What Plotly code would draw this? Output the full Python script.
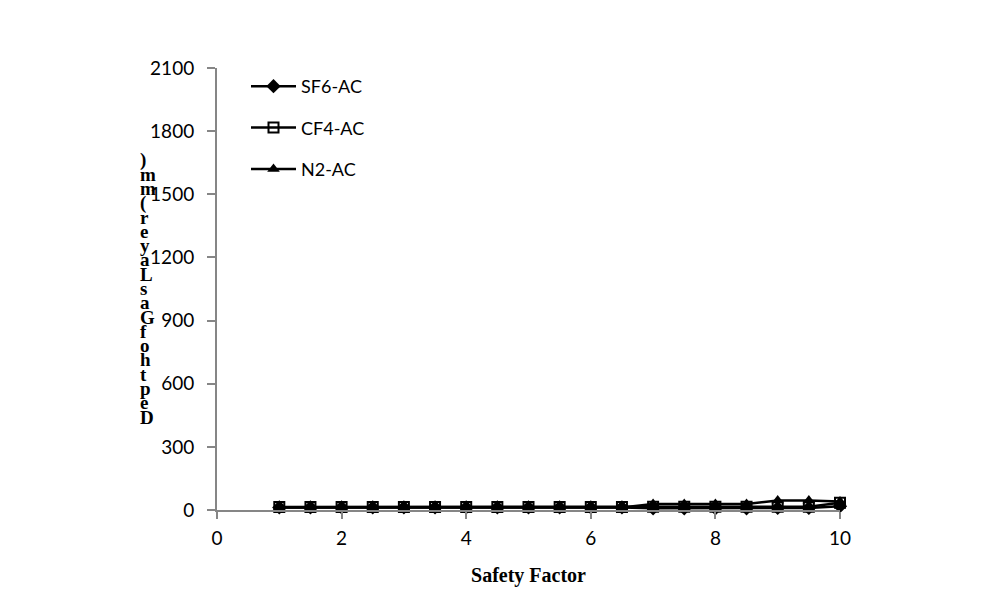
import plotly.graph_objects as go

safety_factor = [1, 1.5, 2, 2.5, 3, 3.5, 4, 4.5, 5, 5.5, 6, 6.5, 7, 7.5, 8, 8.5, 9, 9.5, 10]
sf6_ac = [12, 12, 12, 12, 12, 12, 12, 12, 12, 12, 12, 12, 8, 8, 8, 8, 10, 10, 18]
cf4_ac = [14, 14, 14, 14, 14, 14, 14, 14, 14, 14, 14, 14, 16, 16, 16, 16, 16, 16, 35]
n2_ac = [12, 12, 12, 12, 12, 12, 12, 12, 12, 12, 12, 12, 28, 28, 28, 28, 45, 45, 40]

y_title = "Depth of Gas Layer (mm)"
x_title = "Safety Factor"

W, H = 982, 610
L, R, T, B = 217, 982 - 840, 68, 610 - 510

fig = go.Figure()
fig.add_trace(go.Scatter(x=safety_factor, y=sf6_ac, name="SF6-AC", mode="lines+markers",
                         line=dict(color="black", width=2.5),
                         marker=dict(symbol="diamond", size=11, color="black"),
                         legendgroup="a", cliponaxis=False))
fig.add_trace(go.Scatter(x=safety_factor, y=cf4_ac, name="CF4-AC", mode="lines+markers",
                         line=dict(color="black", width=2.5),
                         marker=dict(symbol="square-open", size=10, color="black", line=dict(width=2)),
                         legendgroup="b", cliponaxis=False))
fig.add_trace(go.Scatter(x=safety_factor, y=n2_ac, name="N2-AC", mode="lines+markers",
                         line=dict(color="black", width=2.5),
                         marker=dict(symbol="triangle-up", size=11, color="black"),
                         legendgroup="c", cliponaxis=False))

# stacked y-axis title characters (reading bottom to top)
chars = [c for c in y_title if c != " "]
top_px, bot_px = 160, 417
n = len(chars)
annotations = []
for i, c in enumerate(chars):
    ypx = bot_px - i * (bot_px - top_px) / (n - 1)
    annotations.append(dict(
        text=c, xref="paper", yref="paper",
        x=(138 - L) / (W - L - R), y=(H - B - ypx) / (H - T - B),
        xanchor="left", yanchor="middle", showarrow=False,
        font=dict(family="Liberation Serif", size=19, color="black", weight="bold"),
    ))

fig.update_layout(
    width=W, height=H,
    margin=dict(l=L, r=R, t=T, b=B),
    paper_bgcolor="white", plot_bgcolor="white",
    showlegend=True,
    legend=dict(x=(246 - L) / (W - L - R), y=1.0, xanchor="left", yanchor="top",
                font=dict(family="Lato", size=18, color="black"), itemwidth=45,
                traceorder="grouped", tracegroupgap=15, bgcolor="rgba(0,0,0,0)"),
    annotations=annotations,
    xaxis=dict(range=[0, 10], tickvals=[0, 2, 4, 6, 8, 10], showgrid=False, zeroline=False,
               showline=True, linecolor="#868686", linewidth=2, ticks="outside", ticklen=7,
               tickcolor="#868686", tickwidth=2, ticklabelstandoff=3,
               tickfont=dict(family="Lato", size=19, color="black"),
               title=dict(text=x_title, standoff=20,
                          font=dict(family="Liberation Serif", size=20, color="black", weight="bold"))),
    yaxis=dict(range=[0, 2100], tickvals=[0, 300, 600, 900, 1200, 1500, 1800, 2100], showgrid=False,
               zeroline=False, showline=True, linecolor="#868686", linewidth=2, ticks="outside",
               ticklen=8, tickcolor="#868686", tickwidth=2, ticklabelstandoff=9,
               tickfont=dict(family="Lato", size=19, color="black")),
)

fig.write_html("out.html")
